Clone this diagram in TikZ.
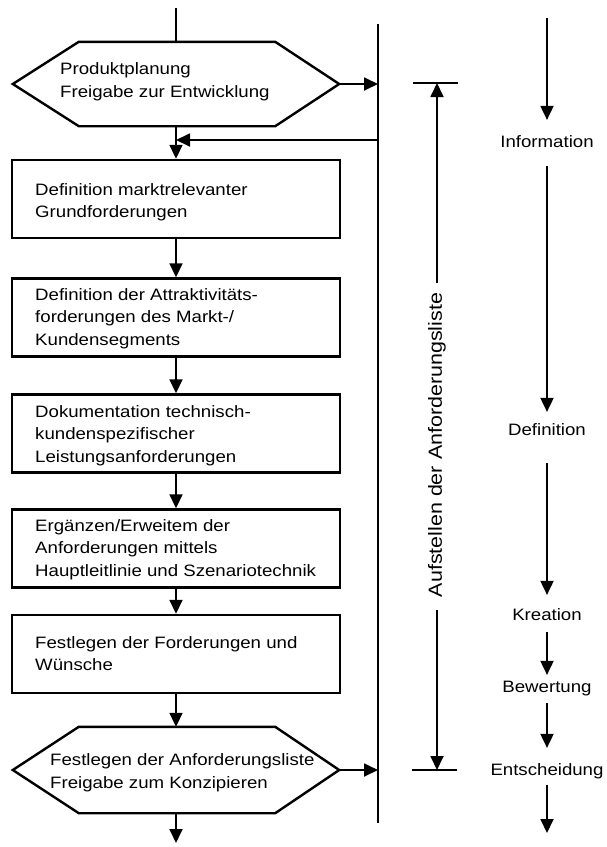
\documentclass[tikz,border=0pt]{standalone}
\usepackage{fontspec}
\setmainfont[FakeStretch=1.13]{Liberation Sans}
\usetikzlibrary{arrows.meta}
\begin{document}
\begin{tikzpicture}[x=1pt,y=-1pt,
  font=\fontsize{16.5}{22.5}\selectfont,
  box/.style={draw, line width=2.4pt, minimum width=328pt, minimum height=78pt, inner sep=0pt},
  hexbase/.style={minimum width=326pt, minimum height=84pt, inner sep=0pt},
  hexline/.style={line width=2.4pt, line join=miter},
  txt/.style={anchor=west, align=left, inner sep=0pt},
  conn/.style={line width=1.8pt},
  arr/.style={conn, -{Triangle[length=14pt,width=13pt]}},
  lbl/.style={inner sep=0pt, text height=11.8pt, text depth=0pt},
  bar/.style={line width=1.8pt},
]
\path[use as bounding box] (0,0) rectangle (606,847);

% hexagon 1
\node[hexbase] (h1) at (176,84) {};
\draw[hexline] (h1.west) -- ([xshift=66pt]h1.north west) -- ([xshift=-64pt]h1.north east) -- (h1.east) -- ([xshift=-64pt]h1.south east) -- ([xshift=66pt]h1.south west) -- cycle;
\node[txt] (t0) at (60,81.5) {Produktplanung\\Freigabe zur Entwicklung};

% boxes
\node[box] (b1) at (176,199) {};
\node[txt] (t1) at (35,202) {Definition marktrelevanter\\Grundforderungen};
\node[box] (b2) at (176,317.5) {};
\node[txt] (t2) at (35,318.5) {Definition der Attraktivitäts-\\forderungen des Markt-/\\Kundensegments};
\node[box] (b3) at (176,433.5) {};
\node[txt] (t3) at (35,435.5) {Dokumentation technisch-\\kundenspezifischer\\Leistungsanforderungen};
\node[box] (b4) at (176,548.5) {};
\node[txt] (t4) at (35,549.5) {Ergänzen/Erweitem der\\Anforderungen mittels\\Hauptleitlinie und Szenariotechnik};
\node[box] (b5) at (176,654) {};
\node[txt] (t5) at (35,653.5) {Festlegen der Forderungen und\\Wünsche};

% hexagon 2
\node[hexbase, minimum height=86pt] (h2) at (176,770) {};
\draw[hexline] (h2.west) -- ([xshift=66pt]h2.north west) -- ([xshift=-64pt]h2.north east) -- (h2.east) -- ([xshift=-64pt]h2.south east) -- ([xshift=66pt]h2.south west) -- cycle;
\node[txt] (t6) at (50,772.5) {Festlegen der Anforderungsliste\\Freigabe zum Konzipieren};

% main flow
\coordinate (top) at (176,8);
\coordinate (end) at (176,843);
\draw[conn] (top) -- (h1.north);
\draw[arr] (h1.south) -- (b1.north);
\draw[arr] (b1.south) -- (b2.north);
\draw[arr] (b2.south) -- (b3.north);
\draw[arr] (b3.south) -- (b4.north);
\draw[arr] (b4.south) -- (b5.north);
\draw[arr] (b5.south) -- (h2.north);
\draw[arr] (h2.south) -- (end);

% vertical line and side arrows
\coordinate (vt) at (378,24);
\coordinate (vb) at (378,823);
\draw[conn] (vt) -- (vb);
\draw[arr] (h1.east) -- (h1.east -| vt);
\draw[arr] (h2.east) -- (h2.east -| vt);
\coordinate (fb) at (378,140);
\draw[arr] (fb) -- (fb -| b1.north);

% double arrow with text
\node[font=\fontsize{19}{22}\selectfont, rotate=90, inner sep=0pt] (auf) at (437,445) {Aufstellen der Anforderungsliste};
\coordinate (bt) at (437,83);
\coordinate (bb) at (437,770);
\draw[bar] ([xshift=-24pt]bt) -- ([xshift=21pt]bt);
\draw[bar] ([xshift=-25pt]bb) -- ([xshift=20pt]bb);
\draw[arr, shorten <=10pt] (auf.east) -- (bt);
\draw[arr, shorten <=13pt] (auf.west) -- (bb);

% right column
\coordinate (r0) at (547,18);
\node[lbl] (info) at (547,142) {Information};
\node[lbl] (def) at (547,430) {Definition};
\node[lbl] (kre) at (547,615) {Kreation};
\node[lbl] (bew) at (547,687) {Bewertung};
\node[lbl] (ent) at (547,770) {Entscheidung};
\coordinate (r5) at (547,833);
\draw[arr, shorten >=16pt] (r0) -- (info);
\draw[arr, shorten <=18pt, shorten >=12pt] (info) -- (def);
\draw[arr, shorten <=27pt, shorten >=14pt] (def) -- (kre);
\draw[arr, shorten <=11pt, shorten >=6pt] (kre) -- (bew);
\draw[arr, shorten <=10pt, shorten >=16pt] (bew) -- (ent);
\draw[arr, shorten <=9pt] (ent) -- (r5);
\end{tikzpicture}
\end{document}
